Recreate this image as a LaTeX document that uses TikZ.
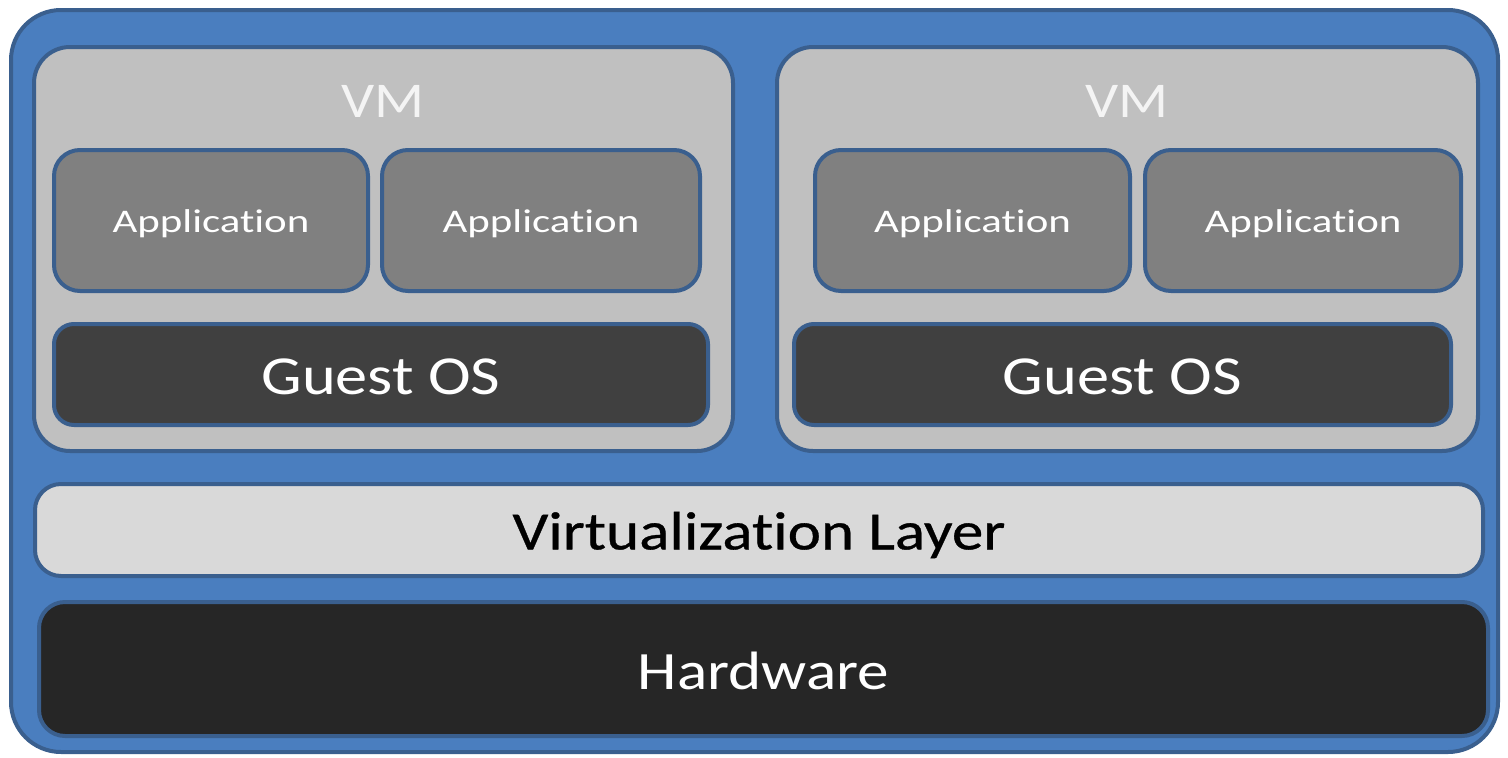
\documentclass[tikz,border=0pt]{standalone}
\usepackage{fontspec}
\setmainfont{Carlito}[FakeStretch=1.17, Ligatures=NoCommon]
\newfontfamily\appfont{Carlito}[FakeStretch=1.3, Ligatures=NoCommon]
\definecolor{bluefill}{HTML}{4A7EBF}
\definecolor{blueline}{HTML}{3A5F8E}
\definecolor{vmfill}{HTML}{C0C0C0}
\definecolor{appfill}{HTML}{808080}
\definecolor{osfill}{HTML}{404040}
\definecolor{virtfill}{HTML}{D9D9D9}
\definecolor{hwfill}{HTML}{262626}
\definecolor{vmtext}{HTML}{F4F4F4}
\newcommand{\lowertext}[2]{\raisebox{-#1}[\height][\depth]{#2}}
\tikzset{
  layerbox/.style={draw=blueline, line width=4pt, rectangle, inner sep=0pt, outer sep=0pt},
  outerbox/.style={layerbox, fill=bluefill, rounded corners=50pt},
  vmbox/.style={layerbox, fill=vmfill, rounded corners=36pt},
  appbox/.style={layerbox, fill=appfill, rounded corners=26pt, text=white, font=\appfont\fontsize{33}{36}\selectfont, minimum height=141pt},
  osbox/.style={layerbox, fill=osfill, rounded corners=20pt, text=white, font=\fontsize{55}{60}\selectfont, minimum height=101pt},
  virtbox/.style={layerbox, fill=virtfill, rounded corners=26pt, text=black, font=\fontsize{54}{58}\selectfont},
  hwbox/.style={layerbox, fill=hwfill, rounded corners=26pt, text=white, font=\fontsize{54}{58}\selectfont},
  vmlabel/.style={text=vmtext, font=\fontsize{50}{54}\selectfont, inner sep=0pt}
}
\begin{document}
\begin{tikzpicture}[x=1pt, y=-1pt]
\useasboundingbox[fill=white] (0,0) rectangle (1508,758);
\node[outerbox, minimum width=1487pt, minimum height=742pt] (outer) at (754.5,381) {};
\node[vmbox, minimum width=699pt, minimum height=404pt] (vm1) at (383.5,249) {};
\node[vmbox, minimum width=701pt, minimum height=404pt] (vm2) at (1127.5,249) {};
\node[vmlabel] (vm1label) at (383,101) {VM};
\node[vmlabel] (vm2label) at (1127,101) {VM};
\node[appbox, minimum width=314pt] (app11) at (211,220.5) {\lowertext{3pt}{Application}};
\node[appbox, minimum width=318pt] (app12) at (541,220.5) {\lowertext{3pt}{Application}};
\node[appbox, minimum width=315pt] (app21) at (972.5,220.5) {\lowertext{3pt}{Application}};
\node[appbox, minimum width=316pt] (app22) at (1303,220.5) {\lowertext{3pt}{Application}};
\node[osbox, minimum width=654pt] (os1) at (381,374.5) {\lowertext{2pt}{Guest OS}};
\node[osbox, minimum width=657pt] (os2) at (1122.5,374.5) {\lowertext{2pt}{Guest OS}};
\node[virtbox, minimum width=1448pt, minimum height=92pt] (virt) at (759,530) {\lowertext{5pt}{\addfontfeature{FakeBold=0.6}Virtualization Layer}};
\node[hwbox, minimum width=1449pt, minimum height=134pt] (hw) at (763.5,669) {\lowertext{2pt}{Hardware}};
\end{tikzpicture}
\end{document}
